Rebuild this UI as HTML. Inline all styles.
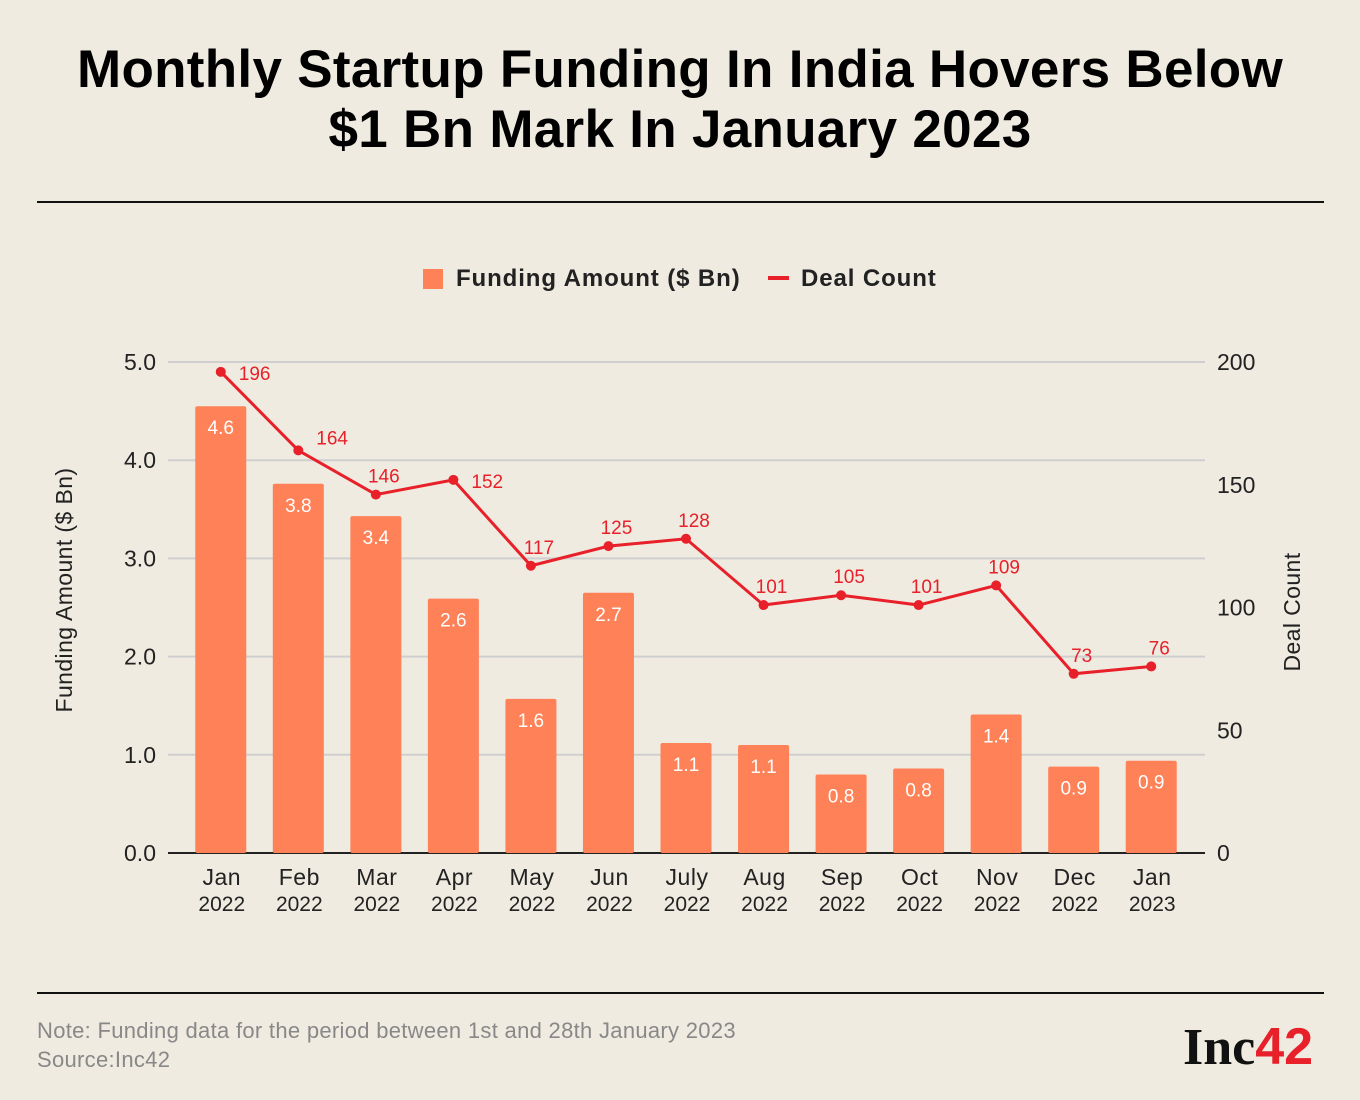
<!DOCTYPE html>
<html><head><meta charset="utf-8"><style>
body{margin:0;background:#efebe0;}
#wrap{width:1360px;height:1100px;position:relative;background:#efebe0;font-family:"Liberation Sans",sans-serif;}
h1{position:absolute;top:40px;left:0;width:1360px;margin:0;text-align:center;font-size:53px;line-height:60px;font-weight:bold;color:#000;letter-spacing:0.3px}
.rule{position:absolute;left:37px;width:1287px;height:2px;background:#111}
.note{position:absolute;left:37px;font-size:22px;color:#888;letter-spacing:0.3px}
</style></head><body>
<div id="wrap">
<h1>Monthly Startup Funding In India Hovers Below<br>$1 Bn Mark In January 2023</h1>
<div class="rule" style="top:201px"></div>
<div class="rule" style="top:992px"></div>
<div class="note" style="top:1018px">Note: Funding data for the period between 1st and 28th January 2023</div>
<div class="note" style="top:1047px">Source:Inc42</div>
<div style="position:absolute;left:1183px;top:1019px;font-family:'Liberation Serif',serif;font-weight:bold;font-size:52px;line-height:56px;color:#111">Inc<span style="color:#e8202a;font-family:'Liberation Sans',sans-serif;font-weight:bold">42</span></div>
<svg id="chart" width="1360" height="1100" style="position:absolute;left:0;top:0">
<g>
<rect x="423" y="269" width="20" height="20" fill="#ff8157"/>
<text x="456" y="286" font-size="24" font-weight="bold" fill="#222" font-family="Liberation Sans" letter-spacing="0.9">Funding Amount ($ Bn)</text>
<rect x="768" y="276" width="21" height="4" fill="#e8202a"/>
<text x="801" y="286" font-size="24" font-weight="bold" fill="#222" font-family="Liberation Sans" letter-spacing="0.9">Deal Count</text>
</g>
<text transform="translate(72,590) rotate(-90)" text-anchor="middle" font-size="23" fill="#222" font-family="Liberation Sans" letter-spacing="0.4">Funding Amount ($ Bn)</text>
<text transform="translate(1300,612) rotate(-90)" text-anchor="middle" font-size="23" fill="#222" font-family="Liberation Sans" letter-spacing="0.4">Deal Count</text>
</svg>
</div>
<script>
const months=["Jan","Feb","Mar","Apr","May","Jun","July","Aug","Sep","Oct","Nov","Dec","Jan"];
const years=["2022","2022","2022","2022","2022","2022","2022","2022","2022","2022","2022","2022","2023"];
const funding=[4.55,3.76,3.43,2.59,1.57,2.65,1.12,1.10,0.80,0.86,1.41,0.88,0.94];
const fundingLabels=["4.6","3.8","3.4","2.6","1.6","2.7","1.1","1.1","0.8","0.8","1.4","0.9","0.9"];
const deals=[196,164,146,152,117,125,128,101,105,101,109,73,76];
const leftTicks=[0,1,2,3,4,5];
const rightTicks=[0,50,100,150,200];
const NS="http://www.w3.org/2000/svg";
const svg=document.getElementById('chart');
const y0=853,yTop=362,plotL=168,plotR=1205,bandL=182,bandR=1190;
const yL=v=>y0-(y0-yTop)*v/5;
const yR=v=>y0-(y0-yTop)*v/200;
const step=(bandR-bandL)/months.length;
const xC=i=>bandL+step*(i+0.5);
function mk(t,a){const e=document.createElementNS(NS,t);for(const k in a)e.setAttribute(k,a[k]);svg.appendChild(e);return e;}
leftTicks.forEach(t=>{
 const g=mk('line',{x1:plotL,x2:plotR,y1:yL(t),y2:yL(t),stroke:t===0?'#222':'#cfcfcf','stroke-width':2});
 
 
 const l=mk('text',{x:156,y:yL(t)+8,'text-anchor':'end','font-size':23,fill:'#222','font-family':'Liberation Sans'});
 l.textContent=t.toFixed(1);
 
 
});
rightTicks.forEach(t=>{
 const l=mk('text',{x:1217,y:yR(t)+8,'font-size':23,fill:'#222','font-family':'Liberation Sans'});
 l.textContent=t;
 
 
});
const bw=51;
funding.forEach((v,i)=>{
 const r=mk('rect',{x:xC(i)-bw/2,y:yL(v),width:bw,height:y0-yL(v),fill:'#ff8157',rx:2});
 
 
 const t=mk('text',{x:xC(i),y:yL(v)+28,'text-anchor':'middle','font-size':19,fill:'#fff','font-family':'Liberation Sans'});
 t.textContent=fundingLabels[i];
 
 
 const m=mk('text',{x:xC(i)+1,y:885,'text-anchor':'middle','font-size':23,fill:'#222','font-family':'Liberation Sans','letter-spacing':0.5});
 m.textContent=months[i];
 
 
 const yy=mk('text',{x:xC(i)+1,y:911,'text-anchor':'middle','font-size':21,fill:'#222','font-family':'Liberation Sans'});
 yy.textContent=years[i];
 
 
});
const pts=deals.map((d,i)=>xC(i)+','+yR(d)).join(' ');
const pl=mk('polyline',{points:pts,fill:'none',stroke:'#e8202a','stroke-width':3});


deals.forEach((d,i)=>{
 const c=mk('circle',{cx:xC(i),cy:yR(d),r:5,fill:'#e8202a'});
 
 
 const side=(i===0||i===1||i===3);
 const t=mk('text',{x:xC(i)+(side?18:8),y:yR(d)-(i===0||i===3?-8:(i===1?6:12)),'font-size':19,fill:'#e8202a','font-family':'Liberation Sans','text-anchor':side?'start':'middle'});
 t.textContent=d;
 
 
});
</script>
</body></html>
